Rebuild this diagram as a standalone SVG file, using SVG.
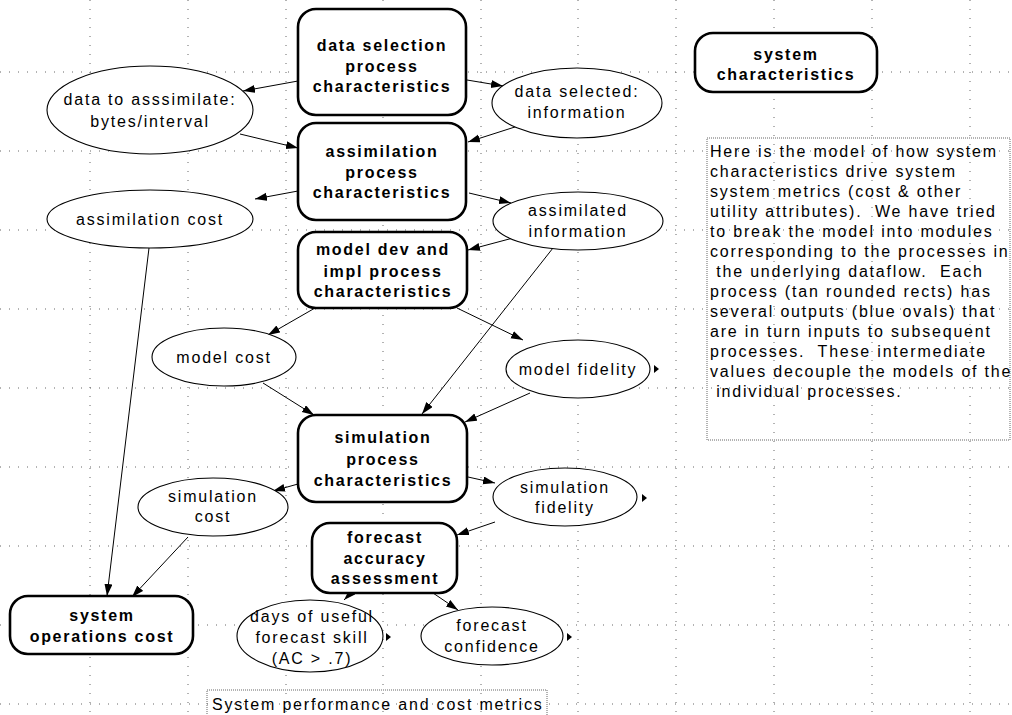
<svg xmlns="http://www.w3.org/2000/svg" width="1012" height="715" viewBox="0 0 1012 715">
<style>
.grid line{stroke:#666;stroke-width:1;stroke-dasharray:1 8}
.proc rect{fill:#fff;stroke:#000;stroke-width:2.6}
.proc text{font-family:"Liberation Sans",Arial,sans-serif;font-size:16px;font-weight:bold;letter-spacing:1.7px;text-anchor:middle;fill:#000}
.oval ellipse{fill:#fff;stroke:#000;stroke-width:1.1}
.oval text{font-family:"Liberation Sans",Arial,sans-serif;font-size:16px;letter-spacing:1.8px;text-anchor:middle;fill:#000}
.note rect{fill:none;stroke:#666;stroke-width:1;stroke-dasharray:1 1}
.note text{font-family:"Liberation Sans",Arial,sans-serif;font-size:16px;letter-spacing:1.8px;fill:#000;white-space:pre}
.conn line{stroke:#000;stroke-width:1;marker-end:url(#ah)}
.tri{fill:#000}
</style>
<defs>
<marker id="ah" markerUnits="userSpaceOnUse" markerWidth="13" markerHeight="9" refX="12" refY="4" orient="auto">
<path d="M0,0 L12,4 L0,8 Z" fill="#000"/>
</marker>
</defs>
<rect width="1012" height="715" fill="#fff"/>
<g class="grid">
<line x1="90" y1="0" x2="90" y2="715"/>
<line x1="188" y1="0" x2="188" y2="715"/>
<line x1="286" y1="0" x2="286" y2="715"/>
<line x1="383" y1="0" x2="383" y2="715"/>
<line x1="481" y1="0" x2="481" y2="715"/>
<line x1="578" y1="0" x2="578" y2="715"/>
<line x1="676" y1="0" x2="676" y2="715"/>
<line x1="774" y1="0" x2="774" y2="715"/>
<line x1="872" y1="0" x2="872" y2="715"/>
<line x1="970" y1="0" x2="970" y2="715"/>
<line x1="0" y1="72" x2="1012" y2="72"/>
<line x1="0" y1="151" x2="1012" y2="151"/>
<line x1="0" y1="230" x2="1012" y2="230"/>
<line x1="0" y1="309" x2="1012" y2="309"/>
<line x1="0" y1="388" x2="1012" y2="388"/>
<line x1="0" y1="467" x2="1012" y2="467"/>
<line x1="0" y1="546" x2="1012" y2="546"/>
<line x1="0" y1="625" x2="1012" y2="625"/>
<line x1="0" y1="704" x2="1012" y2="704"/>
</g>
<g id="connectors" class="conn">
<line x1="298" y1="81" x2="243" y2="91"/>
<line x1="240" y1="134" x2="298" y2="148"/>
<line x1="298" y1="191" x2="255" y2="199"/>
<line x1="467" y1="80" x2="503" y2="86"/>
<line x1="518" y1="126" x2="468" y2="142"/>
<line x1="469" y1="193" x2="511" y2="203"/>
<line x1="513" y1="238" x2="468" y2="250"/>
<line x1="553" y1="248" x2="422" y2="414"/>
<line x1="315" y1="308" x2="268" y2="335"/>
<line x1="457" y1="308" x2="523" y2="340"/>
<line x1="263" y1="383" x2="314" y2="415"/>
<line x1="530" y1="393" x2="465" y2="422"/>
<line x1="149" y1="248" x2="107" y2="596"/>
<line x1="298" y1="484" x2="273" y2="491"/>
<line x1="468" y1="477" x2="495" y2="483"/>
<line x1="188" y1="537" x2="132" y2="597"/>
<line x1="495" y1="522" x2="457" y2="535"/>
<line x1="357" y1="587" x2="344" y2="600"/>
<line x1="433" y1="593" x2="458" y2="610"/>
</g>
<g id="n_datasel" class="proc">
<rect x="298" y="9" width="168" height="106" rx="18"/>
<text x="382" y="51">data selection</text>
<text x="382" y="72">process</text>
<text x="382" y="92">characteristics</text>
</g>
<g id="n_assim" class="proc">
<rect x="298" y="123" width="168" height="97" rx="18"/>
<text x="382" y="157">assimilation</text>
<text x="382" y="178">process</text>
<text x="382" y="198">characteristics</text>
</g>
<g id="n_modeldev" class="proc">
<rect x="298" y="232" width="169" height="76" rx="18"/>
<text x="383" y="255">model dev and</text>
<text x="383" y="277">impl process</text>
<text x="383" y="297">characteristics</text>
</g>
<g id="n_sim" class="proc">
<rect x="298" y="415" width="169" height="87" rx="18"/>
<text x="383" y="443">simulation</text>
<text x="383" y="465">process</text>
<text x="383" y="486">characteristics</text>
</g>
<g id="n_forecast" class="proc">
<rect x="312" y="523" width="145" height="70" rx="18"/>
<text x="385" y="543">forecast</text>
<text x="385" y="564">accuracy</text>
<text x="385" y="584">assessment</text>
</g>
<g id="n_sysops" class="proc">
<rect x="10" y="596" width="183" height="58" rx="18"/>
<text x="102" y="621">system</text>
<text x="102" y="642">operations cost</text>
</g>
<g id="n_syschar" class="proc">
<rect x="695" y="33" width="182" height="59" rx="18"/>
<text x="786" y="60">system</text>
<text x="786" y="80">characteristics</text>
</g>
<g id="o_datatoassim" class="oval">
<ellipse cx="150" cy="110" rx="103" ry="44"/>
<text x="150" y="105">data to asssimilate:</text>
<text x="150" y="127">bytes/interval</text>
</g>
<g id="o_assimcost" class="oval">
<ellipse cx="150" cy="219" rx="103" ry="29"/>
<text x="150" y="225">assimilation cost</text>
</g>
<g id="o_datasel" class="oval">
<ellipse cx="577" cy="103" rx="85" ry="35"/>
<text x="577" y="97">data selected:</text>
<text x="577" y="118">information</text>
</g>
<g id="o_assiminfo" class="oval">
<ellipse cx="578" cy="221" rx="85" ry="29"/>
<text x="578" y="216">assimilated</text>
<text x="578" y="237">information</text>
</g>
<g id="o_modelcost" class="oval">
<ellipse cx="224" cy="357" rx="72" ry="29"/>
<text x="224" y="363">model cost</text>
</g>
<g id="o_modelfid" class="oval">
<ellipse cx="578" cy="369" rx="72" ry="29"/>
<text x="578" y="375">model fidelity</text>
<path class="tri" d="M654,365 L659,369 L654,373 Z"/>
</g>
<g id="o_simcost" class="oval">
<ellipse cx="213" cy="507" rx="75" ry="29"/>
<text x="213" y="502">simulation</text>
<text x="213" y="522">cost</text>
</g>
<g id="o_simfid" class="oval">
<ellipse cx="565" cy="497" rx="72" ry="29"/>
<text x="565" y="493">simulation</text>
<text x="565" y="513">fidelity</text>
<path class="tri" d="M642,494 L647,498 L642,502 Z"/>
</g>
<g id="o_days" class="oval">
<ellipse cx="310" cy="636" rx="73" ry="36"/>
<text x="312" y="622">days of useful</text>
<text x="312" y="643">forecast skill</text>
<text x="312" y="664">(AC &gt; .7)</text>
<path class="tri" d="M386,633 L391,637 L386,641 Z"/>
</g>
<g id="o_fconf" class="oval">
<ellipse cx="492" cy="636" rx="71" ry="29"/>
<text x="492" y="631">forecast</text>
<text x="492" y="652">confidence</text>
<path class="tri" d="M567,633 L572,637 L567,641 Z"/>
</g>
<g id="note_desc" class="note">
<rect x="707" y="138" width="303" height="302"/>
<text x="710" y="157">Here is the model of how system</text>
<text x="710" y="177">characteristics drive system</text>
<text x="710" y="197">system metrics (cost &amp; other</text>
<text x="710" y="217">utility attributes).  We have tried</text>
<text x="710" y="237">to break the model into modules</text>
<text x="710" y="257">corresponding to the processes in</text>
<text x="710" y="277"> the underlying dataflow.  Each</text>
<text x="710" y="297">process (tan rounded rects) has</text>
<text x="710" y="317">several outputs (blue ovals) that</text>
<text x="710" y="337">are in turn inputs to subsequent</text>
<text x="710" y="357">processes.  These intermediate</text>
<text x="710" y="377">values decouple the models of the</text>
<text x="710" y="397"> individual processes.</text>
</g>
<g id="note_metrics" class="note">
<rect x="207" y="690" width="340" height="30"/>
<text x="212" y="710">System performance and cost metrics</text>
</g>
</svg>
